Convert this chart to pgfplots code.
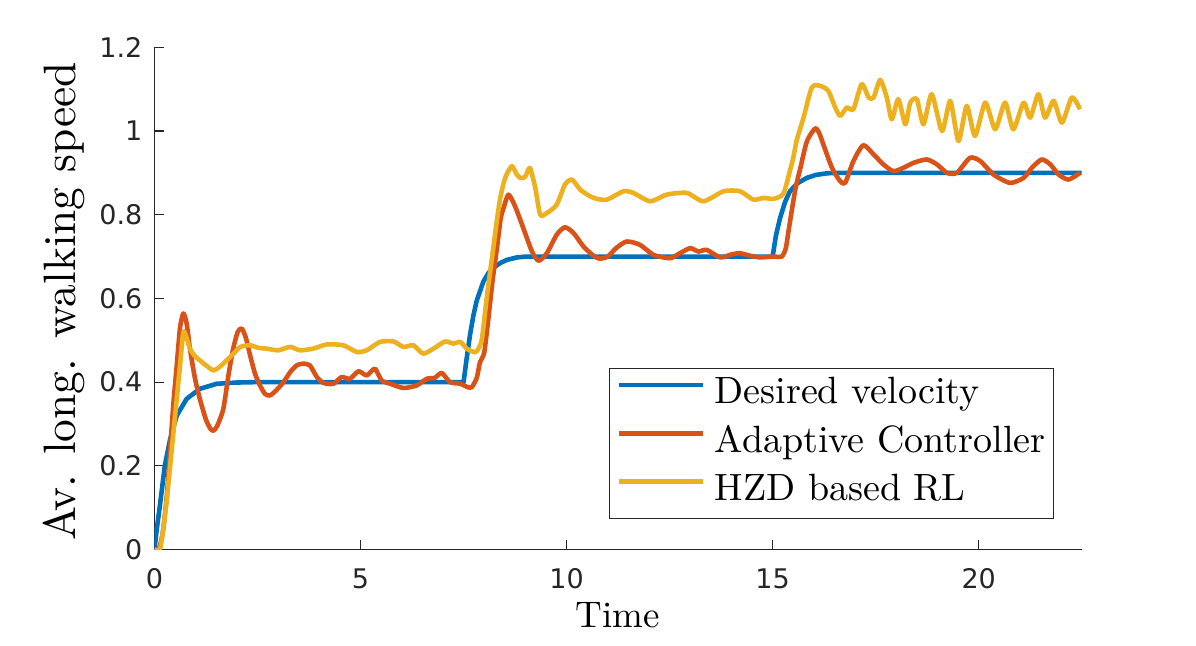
\documentclass[border=0pt]{standalone}
\usepackage{pgfplots}
\pgfplotsset{compat=1.18}
\usepackage{fontspec}
\setmainfont{lmroman10-regular.otf}
\newfontfamily\dejavu{DejaVu Sans}
\definecolor{mblue}{HTML}{0072BD}
\definecolor{mred}{HTML}{D95319}
\definecolor{myel}{HTML}{EDB120}
\definecolor{axgray}{HTML}{262626}
\begin{document}
\begin{tikzpicture}
\begin{axis}[
  at={(0,0)}, anchor=south west,
  scale only axis, width=463.6pt, height=251.1pt,
  xmin=0, xmax=22.5, ymin=0, ymax=1.2,
  axis lines=left, axis line style={-, color=axgray, line width=0.6pt},
  tick align=inside, major tick length=4.7pt,
  tick style={color=axgray, line width=0.6pt},
  xtick={0,5,10,15,20}, xticklabels={0,5,10,15,20},
  ytick={0,0.2,0.4,0.6,0.8,1,1.2}, yticklabels={0,0.2,0.4,0.6,0.8,1,1.2},
  /pgf/number format/assume math mode=true,
  ticklabel style={font=\dejavu\fontsize{13.5}{16}\selectfont, text=axgray, inner sep=0pt},
  xticklabel style={anchor=base, yshift=-19.25pt},
  yticklabel style={anchor=east, xshift=-5.9pt},
  xlabel={Time}, ylabel={Av. long. walking speed},
  xlabel style={at={(axis description cs:0.5,-0.1563)}, anchor=base, font=\fontsize{18.5}{22}\selectfont, inner sep=0pt},
  ylabel style={at={(axis description cs:-0.0857,0.494)}, anchor=base, rotate=0, font=\fontsize{22.7}{26}\selectfont, inner sep=0pt},
  legend style={at={(axis description cs:0.970,0.061)}, anchor=south east,
    draw=axgray, line width=0.5pt, fill=white,
    font=\fontsize{19}{24}\selectfont,
    inner xsep=4pt, inner ysep=4.3pt, row sep=6.2pt,
    nodes={inner sep=0pt, text height=13.5pt, text depth=4.5pt},
    /tikz/every odd column/.append style={column sep=4.5pt}},
  legend cell align=left,
  legend image code/.code={\draw[#1, line width=2.3pt] (0pt,5pt) -- (42pt,5pt);},
  every axis plot/.append style={line width=2.3pt, line join=round},
]
\addplot[mblue] coordinates {
(0,0) (0.05,0.045) (0.13,0.104) (0.25,0.20) (0.38,0.264) (0.54,0.320) (0.78,0.360)
(1.10,0.384) (1.51,0.396) (2.0,0.399) (2.5,0.4) (7.5,0.4)
(7.58,0.46) (7.66,0.515) (7.74,0.56) (7.82,0.595) (7.98,0.64) (8.1,0.66) (8.22,0.673)
(8.4,0.685) (8.55,0.692) (8.8,0.698) (9.03,0.70) (15.0,0.70)
(15.08,0.75) (15.18,0.792) (15.3,0.83) (15.42,0.856) (15.6,0.875) (15.83,0.888)
(16.05,0.895) (16.32,0.899) (16.6,0.9) (22.5,0.9)
};
\addlegendentry{Desired velocity}
\addplot[mred, smooth, tension=0.4] coordinates {
(0,0) (0.1,0.0) (0.2,0.04) (0.3,0.13) (0.38,0.24) (0.46,0.35) (0.54,0.44) (0.62,0.53)
(0.70,0.564) (0.78,0.54) (0.86,0.48) (0.98,0.41) (1.10,0.36) (1.25,0.31) (1.36,0.288)
(1.43,0.284) (1.52,0.295) (1.67,0.336) (1.80,0.42) (1.91,0.48) (2.02,0.52) (2.12,0.528)
(2.22,0.505) (2.32,0.464) (2.44,0.42) (2.56,0.392) (2.68,0.372) (2.80,0.368) (2.95,0.38)
(3.13,0.40) (3.3,0.425) (3.45,0.44) (3.6,0.444) (3.77,0.44) (3.94,0.412) (4.10,0.398)
(4.34,0.396) (4.54,0.412) (4.74,0.408) (4.95,0.426) (5.15,0.416) (5.35,0.432) (5.51,0.404)
(5.72,0.396) (6.04,0.386) (6.36,0.392) (6.61,0.408) (6.80,0.41) (6.97,0.422) (7.17,0.40)
(7.42,0.396) (7.60,0.388) (7.70,0.388) (7.82,0.41) (7.90,0.448) (8.0,0.47) (8.1,0.55)
(8.2,0.64) (8.31,0.72) (8.40,0.79) (8.47,0.816) (8.59,0.848) (8.75,0.82) (8.95,0.768)
(9.16,0.712) (9.32,0.69) (9.52,0.708) (9.76,0.752) (9.96,0.77) (10.17,0.756) (10.41,0.724)
(10.65,0.702) (10.8,0.695) (11.0,0.70) (11.2,0.72) (11.46,0.736) (11.78,0.728) (12.11,0.704)
(12.51,0.696) (12.75,0.708) (13.0,0.72) (13.2,0.712) (13.40,0.716) (13.73,0.698) (14.0,0.705)
(14.21,0.708) (14.45,0.702) (14.70,0.698) (15.02,0.70) (15.22,0.70) (15.32,0.72) (15.40,0.77)
(15.55,0.86) (15.67,0.91) (15.83,0.975) (16.03,1.006) (16.13,0.995) (16.23,0.968) (16.44,0.912)
(16.64,0.88) (16.76,0.876) (16.96,0.928) (17.20,0.966) (17.45,0.944) (17.69,0.92) (17.93,0.904)
(18.17,0.912) (18.42,0.924) (18.74,0.932) (18.99,0.92) (19.23,0.90) (19.47,0.90) (19.79,0.936)
(20.04,0.928) (20.36,0.896) (20.76,0.876) (21.09,0.888) (21.29,0.912) (21.53,0.932) (21.74,0.92)
(21.94,0.896) (22.18,0.884) (22.46,0.90)
};
\addlegendentry{Adaptive Controller}
\addplot[myel, smooth, tension=0.4] coordinates {
(0,0) (0.13,0.0) (0.2,0.04) (0.30,0.12) (0.38,0.20) (0.46,0.28) (0.54,0.36) (0.62,0.44)
(0.70,0.52) (0.78,0.505) (0.86,0.48) (0.98,0.462) (1.10,0.452) (1.25,0.44) (1.43,0.428)
(1.60,0.438) (1.75,0.452) (1.92,0.468) (2.08,0.484) (2.32,0.488) (2.52,0.482) (2.72,0.48)
(3.0,0.476) (3.29,0.484) (3.53,0.476) (3.85,0.48) (4.18,0.49) (4.58,0.488) (4.91,0.472)
(5.15,0.476) (5.47,0.496) (5.80,0.497) (6.04,0.484) (6.28,0.488) (6.52,0.468) (6.77,0.48)
(7.05,0.497) (7.25,0.492) (7.42,0.496) (7.58,0.48) (7.74,0.472) (7.82,0.474) (7.94,0.50)
(8.06,0.60) (8.14,0.66) (8.22,0.72) (8.30,0.78) (8.39,0.84) (8.51,0.888) (8.67,0.916)
(8.78,0.898) (8.87,0.888) (8.99,0.89) (9.11,0.912) (9.24,0.864) (9.36,0.80) (9.52,0.804)
(9.76,0.824) (9.96,0.872) (10.13,0.884) (10.33,0.86) (10.57,0.844) (10.73,0.838) (10.98,0.836)
(11.38,0.856) (11.62,0.852) (12.03,0.832) (12.43,0.848) (12.92,0.852) (13.32,0.832) (13.81,0.856)
(14.21,0.856) (14.53,0.836) (14.78,0.84) (15.02,0.838) (15.26,0.85) (15.42,0.905) (15.50,0.936)
(15.59,0.98) (15.75,1.032) (15.95,1.104) (16.15,1.108) (16.35,1.096) (16.52,1.056) (16.64,1.036)
(16.80,1.056) (16.96,1.052) (17.16,1.112) (17.33,1.08) (17.45,1.08) (17.61,1.122) (17.77,1.08)
(17.89,1.028) (18.05,1.076) (18.22,1.016) (18.34,1.068) (18.50,1.076) (18.66,1.016) (18.86,1.088)
(19.11,1.00) (19.31,1.072) (19.51,0.976) (19.71,1.06) (19.91,0.988) (20.16,1.068) (20.40,1.004)
(20.64,1.068) (20.84,1.004) (21.09,1.068) (21.25,1.032) (21.45,1.088) (21.61,1.032) (21.82,1.072)
(22.02,1.02) (22.26,1.08) (22.46,1.052)
};
\addlegendentry{HZD based RL}
\end{axis}
\pgfresetboundingbox
\useasboundingbox (-77.25pt,-47.75pt) rectangle (520.75pt,274.75pt);
\end{tikzpicture}
\end{document}
